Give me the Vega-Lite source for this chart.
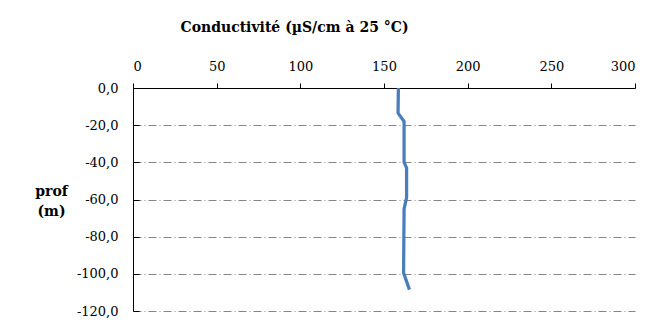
{
  "$schema": "https://vega.github.io/schema/vega-lite/v6.json",
  "autosize": "none",
  "width": 502,
  "height": 223,
  "padding": {"left": 133, "top": 88, "right": 29, "bottom": 16},
  "background": "white",
  "config": {
    "view": {"stroke": null},
    "locale": {"number": {"decimal": ",", "thousands": " ", "grouping": [3], "currency": ["", " €"], "minus": "-"}},
    "font": "DejaVu Serif",
    "axis": {"labelFont": "DejaVu Serif", "titleFont": "DejaVu Serif"}
  },
  "data": {
    "values": [
      {"i": 0, "prof": 0, "cond": 158.6},
      {"i": 1, "prof": -13.5, "cond": 158.4},
      {"i": 2, "prof": -18, "cond": 162},
      {"i": 3, "prof": -40, "cond": 162},
      {"i": 4, "prof": -43, "cond": 163.5},
      {"i": 5, "prof": -59, "cond": 163.5},
      {"i": 6, "prof": -65, "cond": 162},
      {"i": 7, "prof": -99.5, "cond": 161.7},
      {"i": 8, "prof": -108.5, "cond": 165.2}
    ]
  },
  "mark": {"type": "line", "color": "#4A7EBB", "strokeWidth": 3.25, "strokeJoin": "round"},
  "encoding": {
    "order": {"field": "i", "type": "quantitative"},
    "x": {
      "field": "cond",
      "type": "quantitative",
      "scale": {"domain": [0, 300], "nice": false, "zero": false},
      "axis": {
        "orient": "top",
        "values": [0, 50, 100, 150, 200, 250, 300],
        "grid": false,
        "domainColor": "black",
        "domainWidth": 1,
        "tickColor": "black",
        "tickSize": 5,
        "labelPadding": 10,
        "labelFontSize": 13,
        "labelColor": "black",
        "title": "Conductivité (µS/cm à 25 °C)",
        "titleFontSize": 14,
        "titleFontWeight": "bold",
        "titleColor": "black",
        "titleX": 161,
        "titleY": -61,
        "titleAlign": "center",
        "titleBaseline": "middle",
        "titleAnchor": null
      }
    },
    "y": {
      "field": "prof",
      "type": "quantitative",
      "scale": {"domain": [-120, 0], "nice": false, "zero": false},
      "axis": {
        "orient": "left",
        "values": [0, -20, -40, -60, -80, -100, -120],
        "format": ".1f",
        "grid": true,
        "gridColor": "#868686",
        "gridWidth": 1,
        "gridDash": [8, 3, 1, 3],
        "gridOpacity": {"condition": {"test": "datum.value === 0", "value": 0}, "value": 1},
        "domainColor": "black",
        "domainWidth": 1,
        "tickColor": "black",
        "tickSize": -6,
        "labelPadding": 21,
        "labelFontSize": 13,
        "labelColor": "black",
        "title": ["prof", "(m)"],
        "titleFontSize": 14,
        "titleFontWeight": "bold",
        "titleColor": "black",
        "titleAngle": 0,
        "titleAlign": "center",
        "titleBaseline": "top",
        "titleLineHeight": 20,
        "titleX": -82,
        "titleY": 96
      }
    }
  }
}
